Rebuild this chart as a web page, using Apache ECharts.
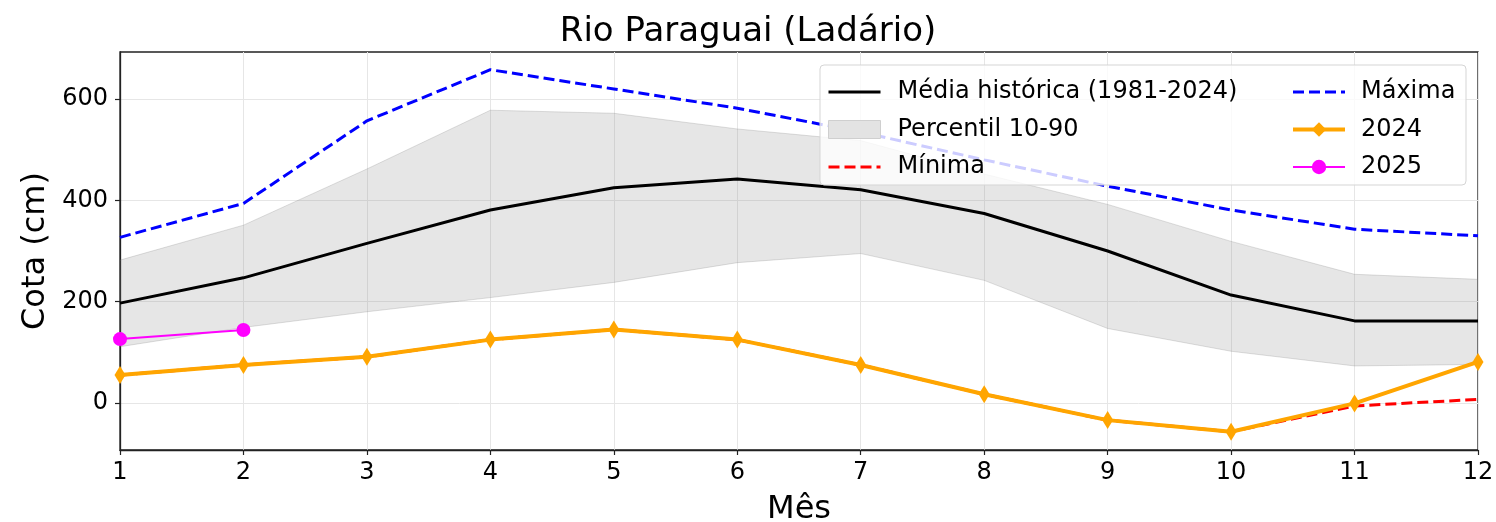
<!DOCTYPE html>
<html>
<head>
<meta charset="utf-8">
<script src="https://cdn.jsdelivr.net/npm/echarts@6/dist/echarts.min.js"></script>
<style>html,body{margin:0;padding:0;background:#fff}#c{width:1496px;height:522px}</style>
</head>
<body>
<div id="c"></div>
<script>
const months = ['1','2','3','4','5','6','7','8','9','10','11','12'];
const media = [197, 247, 315, 381, 425, 442, 421, 374, 300, 213, 162, 162];
const p10 = [111, 149, 180, 208, 238, 277, 295, 242, 147, 102, 73, 76];
const p90 = [282, 351, 462, 578, 572, 541, 518, 452, 392, 319, 254, 244];
const maxima = [327, 394, 557, 658, 620, 582, 535, 480, 428, 381, 343, 330];
const minima = [55, 75, 91, 125, 145, 125, 75, 17, -34, -57, -6, 7];
const y2024 = [55, 75, 91, 125, 145, 125, 75, 17, -34, -57, -1, 81];
const y2025 = [126, 144];
const yTicks = [0, 200, 400, 600];

const bandWidth = p90.map((v, i) => v - p10[i]);
const font = 'DejaVu Sans';
const noSymbol = {opacity: 0, color: 'rgba(0,0,0,0)', borderWidth: 0};

const chart = echarts.init(document.getElementById('c'), null, {renderer: 'canvas'});
chart.setOption({
  animation: false,
  backgroundColor: '#fff',
  textStyle: {fontFamily: font},
  title: {
    text: 'Rio Paraguai (Ladário)',
    left: 'center', top: 10,
    textStyle: {fontFamily: font, fontSize: 34, fontWeight: 'normal', color: '#000'}
  },
  grid: {left: 120, right: 18, top: 52, bottom: 72, show: true, borderColor: '#222', borderWidth: 1.3, backgroundColor: 'transparent', containLabel: false, outerBoundsMode: 'none'},
  xAxis: {
    type: 'category', data: months, boundaryGap: false,
    name: 'Mês', nameLocation: 'middle', nameGap: 44,
    nameTextStyle: {fontFamily: font, fontSize: 32, color: '#000'},
    axisLine: {show: true, onZero: false, lineStyle: {color: '#222', width: 1.3}},
    axisTick: {show: true, length: 5, lineStyle: {color: '#222', width: 1.2}},
    axisLabel: {fontFamily: font, fontSize: 24, color: '#000', margin: 11},
    splitLine: {show: true, lineStyle: {color: '#e6e6e6', width: 1}}
  },
  yAxis: {
    type: 'value', min: -93, max: 693,
    name: 'Cota (cm)', nameLocation: 'middle', nameGap: 67, nameRotate: 90,
    nameTextStyle: {fontFamily: font, fontSize: 32, color: '#000'},
    axisLine: {show: true, lineStyle: {color: '#222', width: 1.3}},
    axisTick: {show: true, length: 5, customValues: yTicks, lineStyle: {color: '#222', width: 1.2}},
    axisLabel: {fontFamily: font, fontSize: 24, color: '#000', margin: 12, customValues: yTicks},
    splitLine: {show: true, lineStyle: {color: '#e6e6e6', width: 1}}
  },
  legend: [
    {
      orient: 'vertical', left: 822, top: 73, itemWidth: 52, itemHeight: 18, itemGap: 9.5,
      textStyle: {fontFamily: font, fontSize: 24, color: '#000', lineHeight: 28, padding: [0, 0, 0, 12]},
      lineStyle: {width: 3},
      selectedMode: false, z: 20,
      data: [
        {name: 'Média histórica (1981-2024)', itemStyle: noSymbol},
        {name: 'Percentil 10-90', icon: 'rect', itemStyle: {color: '#e3e3e3', borderColor: '#cfcfcf', borderWidth: 1}},
        {name: 'Mínima', itemStyle: noSymbol}
      ]
    },
    {
      orient: 'vertical', left: 1286, top: 73, itemWidth: 52, itemHeight: 18, itemGap: 9.5,
      textStyle: {fontFamily: font, fontSize: 24, color: '#000', lineHeight: 28, padding: [0, 0, 0, 11]},
      lineStyle: {width: 3},
      selectedMode: false, z: 20,
      data: [
        {name: 'Máxima', itemStyle: noSymbol},
        {name: '2024', lineStyle: {width: 4}},
        {name: '2025', lineStyle: {width: 2}}
      ]
    }
  ],
  graphic: [{
    type: 'rect', z: 15, silent: true,
    shape: {x: 820, y: 65, width: 646, height: 120, r: 4},
    style: {fill: 'rgba(255,255,255,0.8)', stroke: '#d5d5d5', lineWidth: 1}
  }],
  series: [
    {
      name: 'p10', type: 'line', data: p10, stack: 'band', symbol: 'none', z: 2,
      lineStyle: {color: 'rgba(128,128,128,0.25)', width: 1}
    },
    {
      name: 'Percentil 10-90', type: 'line', data: bandWidth, stack: 'band', symbol: 'none', z: 2,
      lineStyle: {color: 'rgba(128,128,128,0.25)', width: 1},
      areaStyle: {color: 'rgba(128,128,128,0.2)', opacity: 1},
      itemStyle: {color: '#e3e3e3'}
    },
    {
      name: 'Média histórica (1981-2024)', type: 'line', data: media, symbol: 'none', z: 3,
      lineStyle: {color: '#000', width: 3}, itemStyle: {color: '#000'}
    },
    {
      name: 'Máxima', type: 'line', data: maxima, symbol: 'none', z: 3,
      lineStyle: {color: '#0000ff', width: 3, type: [11, 5]}, itemStyle: {color: '#0000ff'}
    },
    {
      name: 'Mínima', type: 'line', data: minima, symbol: 'none', z: 3,
      lineStyle: {color: '#ff0000', width: 3, type: [11, 5]}, itemStyle: {color: '#ff0000'}
    },
    {
      name: '2024', type: 'line', data: y2024, symbol: 'diamond', symbolSize: [11, 18], z: 4,
      lineStyle: {color: '#ffa500', width: 4}, itemStyle: {color: '#ffa500'}
    },
    {
      name: '2025', type: 'line', data: y2025, symbol: 'circle', symbolSize: 14, z: 5,
      lineStyle: {color: '#ff00ff', width: 2}, itemStyle: {color: '#ff00ff'}
    }
  ]
});
</script>
</body>
</html>
